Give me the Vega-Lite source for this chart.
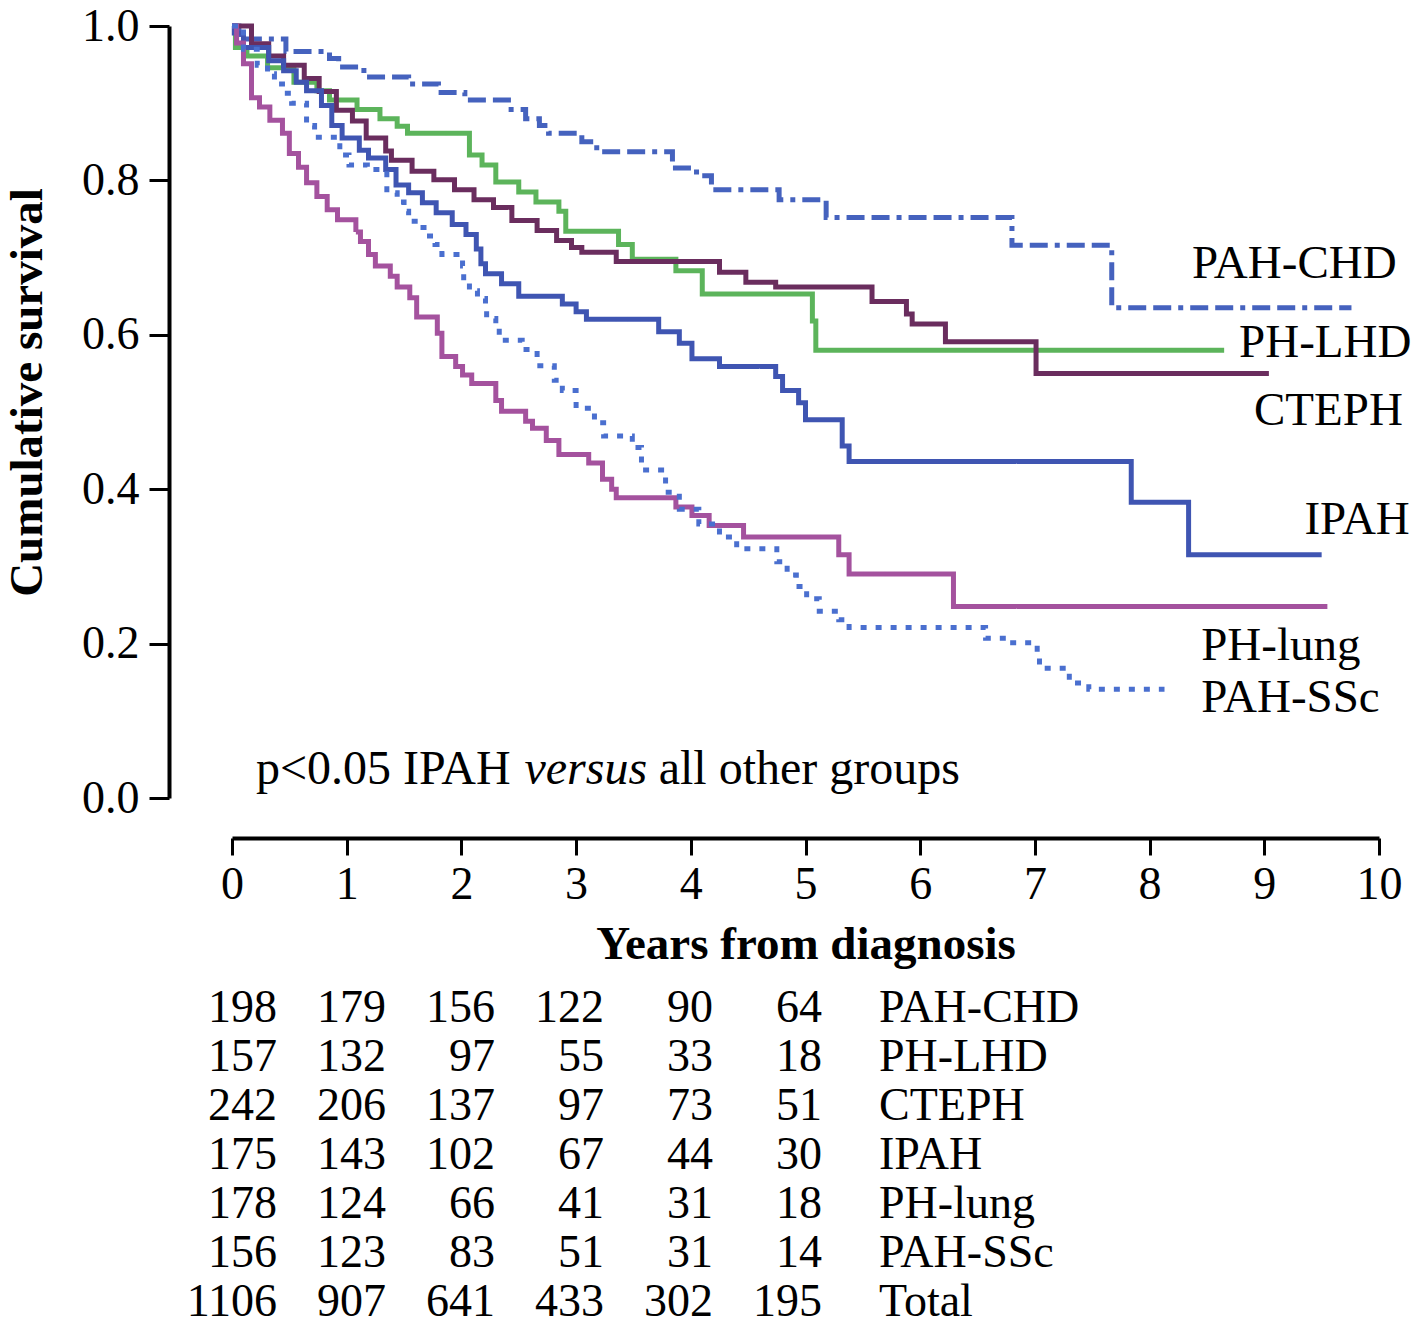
{
  "$schema": "https://vega.github.io/schema/vega-lite/v6.json",
  "background": "white",
  "padding": {"left": 3, "top": 3, "right": 0, "bottom": 0},
  "config": {"view": {"stroke": null}, "font": "Liberation Serif"},
  "spacing": 16,
  "datasets": {
    "curves": [
      {"g":"PAH-CHD","t":0,"s":1.0},{"g":"PAH-CHD","t":0.06,"s":0.983},{"g":"PAH-CHD","t":0.47,"s":0.967},{"g":"PAH-CHD","t":0.85,"s":0.958},{"g":"PAH-CHD","t":0.93,"s":0.947},{"g":"PAH-CHD","t":1.15,"s":0.934},{"g":"PAH-CHD","t":1.54,"s":0.925},{"g":"PAH-CHD","t":1.80,"s":0.914},{"g":"PAH-CHD","t":2.03,"s":0.904},{"g":"PAH-CHD","t":2.41,"s":0.892},{"g":"PAH-CHD","t":2.56,"s":0.880},{"g":"PAH-CHD","t":2.68,"s":0.871},{"g":"PAH-CHD","t":2.76,"s":0.861},{"g":"PAH-CHD","t":3.05,"s":0.850},{"g":"PAH-CHD","t":3.18,"s":0.837},{"g":"PAH-CHD","t":3.84,"s":0.816},{"g":"PAH-CHD","t":4.05,"s":0.806},{"g":"PAH-CHD","t":4.18,"s":0.788},{"g":"PAH-CHD","t":4.77,"s":0.775},{"g":"PAH-CHD","t":5.18,"s":0.752},{"g":"PAH-CHD","t":6.80,"s":0.716},{"g":"PAH-CHD","t":7.67,"s":0.635},{"g":"PAH-CHD","t":9.76,"s":0.635},
      {"g":"PH-LHD","t":0,"s":1.0},{"g":"PH-LHD","t":0.03,"s":0.972},{"g":"PH-LHD","t":0.13,"s":0.961},{"g":"PH-LHD","t":0.31,"s":0.946},{"g":"PH-LHD","t":0.54,"s":0.927},{"g":"PH-LHD","t":0.74,"s":0.916},{"g":"PH-LHD","t":0.85,"s":0.904},{"g":"PH-LHD","t":1.09,"s":0.892},{"g":"PH-LHD","t":1.29,"s":0.880},{"g":"PH-LHD","t":1.44,"s":0.870},{"g":"PH-LHD","t":1.53,"s":0.861},{"g":"PH-LHD","t":2.07,"s":0.833},{"g":"PH-LHD","t":2.18,"s":0.820},{"g":"PH-LHD","t":2.30,"s":0.798},{"g":"PH-LHD","t":2.50,"s":0.785},{"g":"PH-LHD","t":2.65,"s":0.772},{"g":"PH-LHD","t":2.85,"s":0.760},{"g":"PH-LHD","t":2.91,"s":0.734},{"g":"PH-LHD","t":3.37,"s":0.717},{"g":"PH-LHD","t":3.49,"s":0.698},{"g":"PH-LHD","t":3.87,"s":0.683},{"g":"PH-LHD","t":4.10,"s":0.653},{"g":"PH-LHD","t":5.06,"s":0.618},{"g":"PH-LHD","t":5.09,"s":0.580},{"g":"PH-LHD","t":8.65,"s":0.580},
      {"g":"CTEPH","t":0,"s":1.0},{"g":"CTEPH","t":0.17,"s":0.977},{"g":"CTEPH","t":0.32,"s":0.961},{"g":"CTEPH","t":0.45,"s":0.949},{"g":"CTEPH","t":0.63,"s":0.932},{"g":"CTEPH","t":0.76,"s":0.915},{"g":"CTEPH","t":0.91,"s":0.891},{"g":"CTEPH","t":1.05,"s":0.877},{"g":"CTEPH","t":1.17,"s":0.855},{"g":"CTEPH","t":1.34,"s":0.838},{"g":"CTEPH","t":1.39,"s":0.826},{"g":"CTEPH","t":1.57,"s":0.812},{"g":"CTEPH","t":1.76,"s":0.801},{"g":"CTEPH","t":1.94,"s":0.788},{"g":"CTEPH","t":2.11,"s":0.775},{"g":"CTEPH","t":2.28,"s":0.765},{"g":"CTEPH","t":2.44,"s":0.748},{"g":"CTEPH","t":2.66,"s":0.735},{"g":"CTEPH","t":2.83,"s":0.722},{"g":"CTEPH","t":2.96,"s":0.713},{"g":"CTEPH","t":3.05,"s":0.707},{"g":"CTEPH","t":3.35,"s":0.695},{"g":"CTEPH","t":4.25,"s":0.681},{"g":"CTEPH","t":4.48,"s":0.668},{"g":"CTEPH","t":4.74,"s":0.662},{"g":"CTEPH","t":5.58,"s":0.643},{"g":"CTEPH","t":5.88,"s":0.627},{"g":"CTEPH","t":5.93,"s":0.614},{"g":"CTEPH","t":6.22,"s":0.591},{"g":"CTEPH","t":7.01,"s":0.550},{"g":"CTEPH","t":9.04,"s":0.550},
      {"g":"IPAH","t":0,"s":1.0},{"g":"IPAH","t":0.02,"s":0.991},{"g":"IPAH","t":0.10,"s":0.972},{"g":"IPAH","t":0.32,"s":0.955},{"g":"IPAH","t":0.45,"s":0.942},{"g":"IPAH","t":0.56,"s":0.927},{"g":"IPAH","t":0.65,"s":0.916},{"g":"IPAH","t":0.78,"s":0.897},{"g":"IPAH","t":0.87,"s":0.871},{"g":"IPAH","t":0.96,"s":0.855},{"g":"IPAH","t":1.11,"s":0.839},{"g":"IPAH","t":1.19,"s":0.829},{"g":"IPAH","t":1.34,"s":0.814},{"g":"IPAH","t":1.43,"s":0.794},{"g":"IPAH","t":1.54,"s":0.784},{"g":"IPAH","t":1.66,"s":0.771},{"g":"IPAH","t":1.78,"s":0.758},{"g":"IPAH","t":1.92,"s":0.743},{"g":"IPAH","t":2.04,"s":0.730},{"g":"IPAH","t":2.13,"s":0.711},{"g":"IPAH","t":2.17,"s":0.692},{"g":"IPAH","t":2.21,"s":0.679},{"g":"IPAH","t":2.35,"s":0.666},{"g":"IPAH","t":2.50,"s":0.650},{"g":"IPAH","t":2.88,"s":0.640},{"g":"IPAH","t":3.0,"s":0.630},{"g":"IPAH","t":3.09,"s":0.620},{"g":"IPAH","t":3.72,"s":0.604},{"g":"IPAH","t":3.90,"s":0.589},{"g":"IPAH","t":4.01,"s":0.569},{"g":"IPAH","t":4.25,"s":0.559},{"g":"IPAH","t":4.74,"s":0.546},{"g":"IPAH","t":4.80,"s":0.528},{"g":"IPAH","t":4.94,"s":0.512},{"g":"IPAH","t":5.00,"s":0.490},{"g":"IPAH","t":5.32,"s":0.456},{"g":"IPAH","t":5.38,"s":0.436},{"g":"IPAH","t":7.84,"s":0.383},{"g":"IPAH","t":8.34,"s":0.315},{"g":"IPAH","t":9.50,"s":0.315},
      {"g":"PH-lung","t":0,"s":1.0},{"g":"PH-lung","t":0.04,"s":0.978},{"g":"PH-lung","t":0.10,"s":0.951},{"g":"PH-lung","t":0.17,"s":0.907},{"g":"PH-lung","t":0.24,"s":0.895},{"g":"PH-lung","t":0.33,"s":0.878},{"g":"PH-lung","t":0.44,"s":0.861},{"g":"PH-lung","t":0.50,"s":0.835},{"g":"PH-lung","t":0.58,"s":0.817},{"g":"PH-lung","t":0.65,"s":0.797},{"g":"PH-lung","t":0.74,"s":0.779},{"g":"PH-lung","t":0.83,"s":0.762},{"g":"PH-lung","t":0.92,"s":0.749},{"g":"PH-lung","t":1.08,"s":0.733},{"g":"PH-lung","t":1.12,"s":0.721},{"g":"PH-lung","t":1.19,"s":0.704},{"g":"PH-lung","t":1.25,"s":0.689},{"g":"PH-lung","t":1.38,"s":0.676},{"g":"PH-lung","t":1.44,"s":0.662},{"g":"PH-lung","t":1.55,"s":0.648},{"g":"PH-lung","t":1.61,"s":0.623},{"g":"PH-lung","t":1.79,"s":0.602},{"g":"PH-lung","t":1.83,"s":0.572},{"g":"PH-lung","t":1.95,"s":0.559},{"g":"PH-lung","t":2.01,"s":0.548},{"g":"PH-lung","t":2.09,"s":0.537},{"g":"PH-lung","t":2.30,"s":0.515},{"g":"PH-lung","t":2.35,"s":0.501},{"g":"PH-lung","t":2.56,"s":0.488},{"g":"PH-lung","t":2.62,"s":0.479},{"g":"PH-lung","t":2.74,"s":0.463},{"g":"PH-lung","t":2.85,"s":0.445},{"g":"PH-lung","t":3.11,"s":0.434},{"g":"PH-lung","t":3.23,"s":0.413},{"g":"PH-lung","t":3.31,"s":0.400},{"g":"PH-lung","t":3.35,"s":0.389},{"g":"PH-lung","t":3.87,"s":0.377},{"g":"PH-lung","t":4.01,"s":0.366},{"g":"PH-lung","t":4.16,"s":0.353},{"g":"PH-lung","t":4.46,"s":0.338},{"g":"PH-lung","t":5.29,"s":0.315},{"g":"PH-lung","t":5.38,"s":0.290},{"g":"PH-lung","t":6.29,"s":0.248},{"g":"PH-lung","t":9.55,"s":0.248},
      {"g":"PAH-SSc","t":0,"s":1.0},{"g":"PAH-SSc","t":0.10,"s":0.970},{"g":"PAH-SSc","t":0.22,"s":0.949},{"g":"PAH-SSc","t":0.31,"s":0.938},{"g":"PAH-SSc","t":0.37,"s":0.925},{"g":"PAH-SSc","t":0.44,"s":0.913},{"g":"PAH-SSc","t":0.52,"s":0.900},{"g":"PAH-SSc","t":0.65,"s":0.871},{"g":"PAH-SSc","t":0.72,"s":0.856},{"g":"PAH-SSc","t":0.94,"s":0.833},{"g":"PAH-SSc","t":1.02,"s":0.820},{"g":"PAH-SSc","t":1.18,"s":0.814},{"g":"PAH-SSc","t":1.35,"s":0.784},{"g":"PAH-SSc","t":1.44,"s":0.772},{"g":"PAH-SSc","t":1.50,"s":0.760},{"g":"PAH-SSc","t":1.54,"s":0.747},{"g":"PAH-SSc","t":1.64,"s":0.739},{"g":"PAH-SSc","t":1.70,"s":0.728},{"g":"PAH-SSc","t":1.77,"s":0.717},{"g":"PAH-SSc","t":1.83,"s":0.704},{"g":"PAH-SSc","t":2.01,"s":0.689},{"g":"PAH-SSc","t":2.02,"s":0.670},{"g":"PAH-SSc","t":2.07,"s":0.657},{"g":"PAH-SSc","t":2.14,"s":0.647},{"g":"PAH-SSc","t":2.21,"s":0.638},{"g":"PAH-SSc","t":2.22,"s":0.621},{"g":"PAH-SSc","t":2.30,"s":0.611},{"g":"PAH-SSc","t":2.33,"s":0.593},{"g":"PAH-SSc","t":2.53,"s":0.581},{"g":"PAH-SSc","t":2.66,"s":0.560},{"g":"PAH-SSc","t":2.81,"s":0.541},{"g":"PAH-SSc","t":2.88,"s":0.528},{"g":"PAH-SSc","t":3.00,"s":0.505},{"g":"PAH-SSc","t":3.16,"s":0.486},{"g":"PAH-SSc","t":3.24,"s":0.469},{"g":"PAH-SSc","t":3.49,"s":0.454},{"g":"PAH-SSc","t":3.57,"s":0.425},{"g":"PAH-SSc","t":3.78,"s":0.396},{"g":"PAH-SSc","t":3.90,"s":0.374},{"g":"PAH-SSc","t":4.07,"s":0.355},{"g":"PAH-SSc","t":4.25,"s":0.338},{"g":"PAH-SSc","t":4.40,"s":0.323},{"g":"PAH-SSc","t":4.75,"s":0.306},{"g":"PAH-SSc","t":4.84,"s":0.289},{"g":"PAH-SSc","t":4.92,"s":0.274},{"g":"PAH-SSc","t":5.01,"s":0.258},{"g":"PAH-SSc","t":5.12,"s":0.242},{"g":"PAH-SSc","t":5.29,"s":0.231},{"g":"PAH-SSc","t":5.38,"s":0.221},{"g":"PAH-SSc","t":6.57,"s":0.207},{"g":"PAH-SSc","t":6.76,"s":0.201},{"g":"PAH-SSc","t":7.02,"s":0.188},{"g":"PAH-SSc","t":7.04,"s":0.168},{"g":"PAH-SSc","t":7.30,"s":0.149},{"g":"PAH-SSc","t":7.47,"s":0.141},{"g":"PAH-SSc","t":8.13,"s":0.141}
    ],
    "labels": [
      {"g":"PAH-CHD","t":8.37,"s":0.6915},
      {"g":"PH-LHD","t":8.78,"s":0.589},
      {"g":"CTEPH","t":8.91,"s":0.501},
      {"g":"IPAH","t":9.35,"s":0.36},
      {"g":"PH-lung","t":8.45,"s":0.197},
      {"g":"PAH-SSc","t":8.45,"s":0.13}
    ],
    "note": [
      {"txt":"p<0.05 IPAH","t":0.209,"s":0.036},
      {"txt":"all other groups","t":3.72,"s":0.036}
    ],
    "noteItalic": [
      {"txt":"versus","t":2.55,"s":0.036}
    ],
    "risk": [
      {"g":"PAH-CHD","c":0,"n":198},{"g":"PAH-CHD","c":1,"n":179},{"g":"PAH-CHD","c":2,"n":156},{"g":"PAH-CHD","c":3,"n":122},{"g":"PAH-CHD","c":4,"n":90},{"g":"PAH-CHD","c":5,"n":64},
      {"g":"PH-LHD","c":0,"n":157},{"g":"PH-LHD","c":1,"n":132},{"g":"PH-LHD","c":2,"n":97},{"g":"PH-LHD","c":3,"n":55},{"g":"PH-LHD","c":4,"n":33},{"g":"PH-LHD","c":5,"n":18},
      {"g":"CTEPH","c":0,"n":242},{"g":"CTEPH","c":1,"n":206},{"g":"CTEPH","c":2,"n":137},{"g":"CTEPH","c":3,"n":97},{"g":"CTEPH","c":4,"n":73},{"g":"CTEPH","c":5,"n":51},
      {"g":"IPAH","c":0,"n":175},{"g":"IPAH","c":1,"n":143},{"g":"IPAH","c":2,"n":102},{"g":"IPAH","c":3,"n":67},{"g":"IPAH","c":4,"n":44},{"g":"IPAH","c":5,"n":30},
      {"g":"PH-lung","c":0,"n":178},{"g":"PH-lung","c":1,"n":124},{"g":"PH-lung","c":2,"n":66},{"g":"PH-lung","c":3,"n":41},{"g":"PH-lung","c":4,"n":31},{"g":"PH-lung","c":5,"n":18},
      {"g":"PAH-SSc","c":0,"n":156},{"g":"PAH-SSc","c":1,"n":123},{"g":"PAH-SSc","c":2,"n":83},{"g":"PAH-SSc","c":3,"n":51},{"g":"PAH-SSc","c":4,"n":31},{"g":"PAH-SSc","c":5,"n":14},
      {"g":"Total","c":0,"n":1106},{"g":"Total","c":1,"n":907},{"g":"Total","c":2,"n":641},{"g":"Total","c":3,"n":433},{"g":"Total","c":4,"n":302},{"g":"Total","c":5,"n":195}
    ],
    "groups": [
      {"g":"PAH-CHD"},{"g":"PH-LHD"},{"g":"CTEPH"},{"g":"IPAH"},{"g":"PH-lung"},{"g":"PAH-SSc"},{"g":"Total"}
    ]
  },
  "vconcat": [
    {
      "width": 1147,
      "height": 772,
      "layer": [
        {
          "data": {"name": "curves"},
          "mark": {"type": "line", "interpolate": "step-after", "strokeWidth": 5, "clip": false},
          "encoding": {
            "x": {"field": "t", "type": "quantitative",
              "scale": {"domain": [0, 10], "nice": false, "zero": false},
              "axis": {"values": [0,1,2,3,4,5,6,7,8,9,10], "format": "d", "offset": 40, "tickSize": 17, "tickWidth": 3, "tickColor": "black", "domainWidth": 4, "domainColor": "black", "labelFont": "Liberation Serif", "labelFontSize": 46, "labelColor": "black", "labelPadding": 7, "labelFlush": false, "labelOverlap": false, "grid": false, "title": "Years from diagnosis", "titleFont": "Liberation Serif", "titleFontSize": 47, "titleFontWeight": "bold", "titleColor": "black", "titlePadding": 14}},
            "y": {"field": "s", "type": "quantitative",
              "scale": {"domain": [0, 1], "nice": false, "zero": false},
              "axis": {"values": [0,0.2,0.4,0.6,0.8,1], "format": ".1f", "offset": 63, "tickSize": 20, "tickWidth": 3, "tickColor": "black", "domainWidth": 4, "domainColor": "black", "labelFont": "Liberation Serif", "labelFontSize": 46, "labelColor": "black", "labelPadding": 10, "labelFlush": false, "labelOverlap": false, "grid": false, "title": "Cumulative survival", "titleFont": "Liberation Serif", "titleFontSize": 47, "titleFontWeight": "bold", "titleColor": "black", "titlePadding": 30, "titleY": 366}},
            "color": {"field": "g", "type": "nominal", "legend": null,
              "scale": {"domain": ["PAH-CHD","PH-LHD","CTEPH","IPAH","PH-lung","PAH-SSc"], "range": ["#4562be","#5cb45b","#6a2d5e","#3f55b2","#a4529e","#4a6fcf"]}},
            "strokeDash": {"field": "g", "type": "nominal", "legend": null,
              "scale": {"domain": ["PAH-CHD","PH-LHD","CTEPH","IPAH","PH-lung","PAH-SSc"], "range": [[18,7,18,7,5,7],[1,0],[1,0],[1,0],[1,0],[6,9]]}}
          }
        },
        {
          "data": {"name": "labels"},
          "mark": {"type": "text", "align": "left", "baseline": "middle", "fontSize": 47, "font": "Liberation Serif", "color": "black"},
          "encoding": {
            "x": {"field": "t", "type": "quantitative"},
            "y": {"field": "s", "type": "quantitative"},
            "text": {"field": "g"}
          }
        },
        {
          "data": {"name": "note"},
          "mark": {"type": "text", "align": "left", "baseline": "middle", "fontSize": 48, "font": "Liberation Serif", "color": "black"},
          "encoding": {
            "x": {"field": "t", "type": "quantitative"},
            "y": {"field": "s", "type": "quantitative"},
            "text": {"field": "txt"}
          }
        },
        {
          "data": {"name": "noteItalic"},
          "mark": {"type": "text", "align": "left", "baseline": "middle", "fontSize": 48, "font": "Liberation Serif", "fontStyle": "italic", "color": "black"},
          "encoding": {
            "x": {"field": "t", "type": "quantitative"},
            "y": {"field": "s", "type": "quantitative"},
            "text": {"field": "txt"}
          }
        }
      ]
    },
    {
      "width": 1147,
      "height": 343,
      "layer": [
        {
          "data": {"name": "risk"},
          "mark": {"type": "text", "align": "right", "baseline": "middle", "fontSize": 46, "font": "Liberation Serif", "color": "black"},
          "encoding": {
            "x": {"field": "c", "type": "quantitative", "scale": {"domain": [-0.4128, 10.11], "nice": false, "zero": false}, "axis": null},
            "y": {"field": "g", "type": "nominal", "sort": ["PAH-CHD","PH-LHD","CTEPH","IPAH","PH-lung","PAH-SSc","Total"], "scale": {"paddingInner": 0, "paddingOuter": 0}, "axis": null},
            "text": {"field": "n", "type": "quantitative", "format": "d"}
          }
        },
        {
          "data": {"name": "groups"},
          "mark": {"type": "text", "align": "left", "baseline": "middle", "fontSize": 46, "font": "Liberation Serif", "color": "black"},
          "encoding": {
            "x": {"datum": 5.523, "type": "quantitative"},
            "y": {"field": "g", "type": "nominal", "sort": ["PAH-CHD","PH-LHD","CTEPH","IPAH","PH-lung","PAH-SSc","Total"]},
            "text": {"field": "g"}
          }
        }
      ]
    }
  ]
}
